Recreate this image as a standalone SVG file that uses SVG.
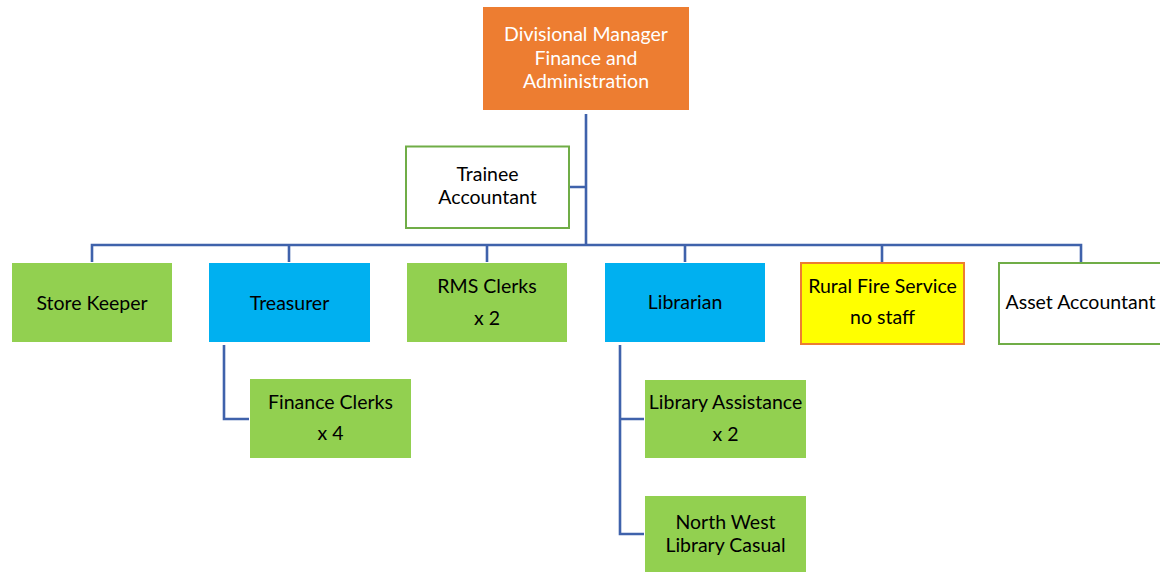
<svg xmlns="http://www.w3.org/2000/svg" width="1160" height="572" viewBox="0 0 1160 572">
<style>
text{font-family:Lato,"Liberation Sans",sans-serif;font-size:19.5px;fill:#000;text-anchor:middle}
.w{fill:#fff}
.green{fill:#92D050}
.blue{fill:#00B0F0}
.conn{fill:none;stroke:#3F62AB;stroke-width:2.6}
</style>
<rect width="1160" height="572" fill="#fff"/>
<g id="connectors">
<path class="conn" d="M586 114V245M570 187H586M92 262V245H1081V262M289 245V262M487 245V262M685 245V262M882 245V262"/>
<path class="conn" d="M224 345V419H249"/>
<path class="conn" d="M620 345V534H644M620 419H644"/>
</g>
<g id="manager">
<rect x="483" y="7" width="206" height="103" fill="#ED7D31"/>
<text class="w" x="586" y="41">Divisional Manager</text>
<text class="w" x="586" y="65">Finance and</text>
<text class="w" x="586" y="88">Administration</text>
</g>
<g id="trainee">
<rect x="406" y="146.5" width="163" height="81.5" fill="#fff" stroke="#70AD47" stroke-width="2"/>
<text x="487.5" y="181">Trainee</text>
<text x="487.5" y="204">Accountant</text>
</g>
<g id="storekeeper">
<rect class="green" x="12" y="263" width="160" height="79"/>
<text x="92" y="310">Store Keeper</text>
</g>
<g id="treasurer">
<rect class="blue" x="209" y="263" width="161" height="79"/>
<text x="289.5" y="310">Treasurer</text>
</g>
<g id="rms">
<rect class="green" x="407" y="263" width="160" height="79"/>
<text x="487" y="293">RMS Clerks</text>
<text x="487" y="325">x 2</text>
</g>
<g id="librarian">
<rect class="blue" x="605" y="263" width="160" height="79"/>
<text x="685" y="309">Librarian</text>
</g>
<g id="ruralfire">
<rect x="801" y="263" width="163" height="81" fill="#FFFF00" stroke="#ED7D31" stroke-width="2"/>
<text x="882.5" y="293">Rural Fire Service</text>
<text x="882.5" y="324">no staff</text>
</g>
<g id="asset">
<rect x="999" y="263" width="170" height="81" fill="#fff" stroke="#70AD47" stroke-width="2"/>
<text x="1080.5" y="309">Asset Accountant</text>
</g>
<g id="financeclerks">
<rect class="green" x="250" y="379" width="161" height="79"/>
<text x="330.5" y="409">Finance Clerks</text>
<text x="330.5" y="440">x 4</text>
</g>
<g id="libraryassistance">
<rect class="green" x="645" y="380" width="161" height="78"/>
<text x="725.5" y="409">Library Assistance</text>
<text x="725.5" y="441">x 2</text>
</g>
<g id="northwest">
<rect class="green" x="645" y="496" width="161" height="78"/>
<text x="725.5" y="529">North West</text>
<text x="725.5" y="552">Library Casual</text>
</g>
</svg>
